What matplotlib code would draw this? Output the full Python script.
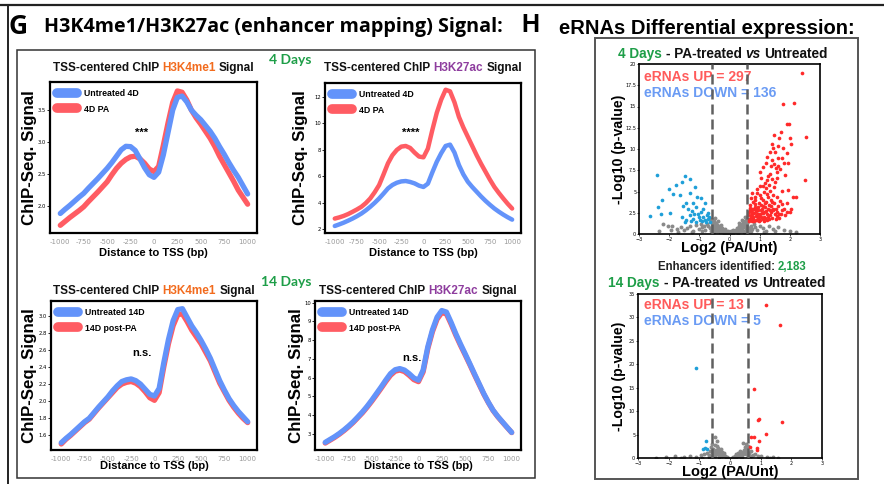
import numpy as np
import matplotlib
matplotlib.use("Agg")
import matplotlib.pyplot as plt
from matplotlib.lines import Line2D
from matplotlib.patches import Rectangle

W, H = 884, 484

# ChIP profiles (distance to TSS, bp), read every 50 bp
dist = list(range(-1000, 1001, 50))

k4_4d_untr = [1.885, 1.95, 2.01, 2.075, 2.14, 2.20, 2.28, 2.355, 2.43, 2.51, 2.59,
              2.68, 2.78, 2.88, 2.935, 2.93, 2.87, 2.74, 2.60, 2.49, 2.45,
              2.53, 2.80, 3.15, 3.50, 3.70, 3.72, 3.63, 3.50, 3.42, 3.35,
              3.26, 3.17, 3.06, 2.93, 2.81, 2.68, 2.56, 2.45, 2.32, 2.19]
k4_4d_pa = [1.70, 1.76, 1.82, 1.875, 1.93, 1.99, 2.07, 2.145, 2.22, 2.30, 2.38,
            2.49, 2.59, 2.67, 2.73, 2.77, 2.78, 2.74, 2.67, 2.58, 2.54,
            2.62, 2.95, 3.30, 3.62, 3.80, 3.78, 3.66, 3.50, 3.38, 3.28,
            3.17, 3.06, 2.93, 2.78, 2.65, 2.52, 2.39, 2.25, 2.14, 2.03]

k27_4d_untr = [2.25, 2.37, 2.50, 2.65, 2.81, 2.99, 3.19, 3.43, 3.70, 4.00, 4.33,
               4.70, 5.09, 5.35, 5.52, 5.62, 5.65, 5.58, 5.47, 5.30, 5.20,
               5.45, 6.30, 7.10, 7.75, 8.30, 8.40, 7.80, 6.86, 6.15, 5.60,
               5.20, 4.84, 4.48, 4.15, 3.85, 3.57, 3.33, 3.11, 2.91, 2.73]
k27_4d_pa = [2.81, 2.90, 3.01, 3.15, 3.32, 3.50, 3.70, 3.98, 4.33, 4.80, 5.34,
             6.15, 6.99, 7.60, 8.00, 8.25, 8.30, 8.15, 7.80, 7.50, 7.44,
             8.10, 9.50, 10.80, 11.80, 12.55, 12.43, 11.60, 10.50, 9.70, 9.00,
             8.30, 7.60, 6.95, 6.35, 5.75, 5.20, 4.75, 4.33, 3.93, 3.57]

k4_14d_untr = [1.515, 1.565, 1.61, 1.66, 1.71, 1.76, 1.80, 1.865, 1.93, 1.99, 2.05,
               2.12, 2.18, 2.23, 2.25, 2.26, 2.24, 2.20, 2.14, 2.08, 2.06,
               2.15, 2.45, 2.72, 2.94, 3.07, 3.08, 2.98, 2.88, 2.80, 2.71,
               2.61, 2.50, 2.37, 2.24, 2.13, 2.03, 1.95, 1.88, 1.82, 1.76]
k4_14d_post = [1.50, 1.555, 1.60, 1.65, 1.70, 1.75, 1.79, 1.855, 1.92, 1.98, 2.04,
               2.10, 2.16, 2.20, 2.22, 2.23, 2.21, 2.17, 2.11, 2.04, 2.01,
               2.10, 2.40, 2.67, 2.88, 3.01, 3.02, 2.93, 2.83, 2.75, 2.67,
               2.57, 2.47, 2.34, 2.21, 2.11, 2.01, 1.93, 1.86, 1.80, 1.75]

k27_14d_untr = [2.54, 2.69, 2.84, 3.01, 3.20, 3.41, 3.64, 3.90, 4.17, 4.47, 4.80,
                5.15, 5.50, 5.87, 6.21, 6.42, 6.48, 6.40, 6.21, 5.98, 5.86,
                6.40, 7.64, 8.55, 9.23, 9.58, 9.50, 8.95, 8.35, 7.80, 7.28,
                6.75, 6.21, 5.68, 5.15, 4.68, 4.26, 3.93, 3.64, 3.35, 3.07]
k27_14d_post = [2.50, 2.65, 2.80, 2.97, 3.16, 3.37, 3.60, 3.86, 4.12, 4.42, 4.74,
                5.08, 5.43, 5.79, 6.12, 6.34, 6.40, 6.32, 6.12, 5.89, 5.78,
                6.30, 7.54, 8.45, 9.12, 9.47, 9.40, 8.86, 8.27, 7.73, 7.22,
                6.70, 6.16, 5.64, 5.12, 4.66, 4.24, 3.91, 3.62, 3.34, 3.06]

xtick_vals = [-1000, -750, -500, -250, 0, 250, 500, 750, 1000]

# volcano points (log2 FC, -log10 p)
up_4d = [(2.39, 19.0), (1.76, 15.3), (2.14, 15.4), (1.92, 12.9), (1.98, 12.9), (1.48, 11.6),
         (1.64, 11.3), (2.00, 11.3), (2.54, 11.4), (1.40, 10.6), (1.43, 10.1), (1.76, 10.1),
         (1.34, 9.7), (1.89, 9.5), (1.23, 9.1), (1.73, 9.0), (1.42, 8.7), (1.12, 7.9),
         (1.62, 8.0), (1.95, 8.4), (1.01, 7.3), (1.34, 7.1), (1.56, 7.3), (1.84, 6.9),
         (2.50, 6.4), (1.23, 6.3), (1.51, 6.1), (1.10, 5.7), (0.90, 5.3), (1.34, 5.1),
         (1.73, 5.1), (1.95, 5.2), (0.73, 4.8), (1.01, 4.6), (1.23, 4.7), (1.56, 4.4),
         (2.09, 4.4), (0.84, 4.0), (1.12, 4.0), (1.40, 3.8), (1.67, 3.9), (1.89, 3.6),
         (0.68, 3.4), (0.95, 3.2), (1.17, 3.2), (1.45, 3.0), (1.73, 2.8), (2.00, 2.6),
         (0.73, 2.6), (0.90, 2.4), (1.12, 2.5), (1.34, 2.2), (1.56, 2.1), (0.79, 1.8),
         (1.01, 1.7), (1.23, 1.6), (0.65, 1.5), (0.70, 2.0), (0.75, 2.3), (0.80, 2.9),
         (0.85, 3.5), (0.88, 2.1), (0.92, 1.6), (0.95, 2.8), (0.98, 3.7), (1.02, 2.3),
         (1.05, 4.2), (1.08, 3.0), (1.15, 2.0), (1.18, 3.6), (1.20, 2.7), (1.26, 4.3),
         (1.28, 2.0), (1.30, 3.4), (1.38, 2.6), (1.45, 4.6), (1.50, 2.4), (1.60, 3.3),
         (1.65, 2.4), (1.80, 3.0), (1.85, 2.2), (0.62, 2.2), (0.68, 2.8), (0.72, 1.7),
         (0.78, 3.8), (0.82, 1.5), (0.86, 4.4), (0.94, 1.9), (1.04, 3.4), (1.10, 1.8),
         (1.14, 4.9), (1.22, 5.4), (1.32, 5.8), (1.36, 4.0), (1.48, 5.5), (1.58, 6.6),
         (1.68, 7.6), (1.28, 6.8), (1.46, 8.2), (1.52, 9.6), (1.62, 10.4), (1.70, 12.0),
         (1.80, 8.3), (2.05, 10.6), (2.20, 4.4), (2.05, 3.0),
         (0.63, 1.8), (0.66, 2.6), (0.69, 3.1), (0.71, 2.2), (0.74, 1.5), (0.76, 3.0),
         (0.77, 2.0), (0.81, 2.5), (0.83, 3.2), (0.87, 2.7), (0.89, 1.7), (0.91, 3.0),
         (0.93, 2.4), (0.97, 2.1), (0.99, 1.5), (1.03, 2.8), (1.06, 2.0), (1.09, 2.5),
         (1.11, 3.3), (1.13, 1.5), (1.16, 2.6), (1.19, 1.9), (1.21, 3.8), (1.24, 2.3),
         (1.27, 3.0), (1.31, 1.8), (1.33, 2.8), (1.37, 3.3), (1.41, 1.9), (1.44, 2.8),
         (1.47, 3.6), (1.53, 1.8), (1.55, 3.0), (1.58, 2.6), (1.63, 1.9), (1.70, 2.3),
         (1.75, 3.5), (1.90, 2.6), (0.70, 4.2), (0.92, 4.8), (1.00, 5.6), (1.18, 6.0),
         (1.06, 6.6), (1.40, 6.5), (1.55, 7.8), (1.38, 8.0), (1.60, 9.0), (1.20, 8.3)]
down_4d = [(-2.39, 6.9), (-1.46, 6.8), (-1.32, 6.5), (-1.59, 6.1), (-1.76, 5.8), (-2.00, 5.3),
           (-1.15, 5.5), (-1.87, 4.7), (-1.65, 4.6), (-1.32, 4.8), (-1.07, 4.4), (-2.23, 4.0),
           (-2.37, 3.2), (-1.43, 3.6), (-1.21, 3.6), (-0.93, 4.2), (-0.82, 3.6), (-1.37, 3.0),
           (-1.10, 3.2), (-0.87, 3.0), (-2.26, 2.3), (-1.96, 2.5), (-2.62, 2.1), (-1.59, 2.0),
           (-1.32, 2.2), (-1.04, 2.4), (-0.76, 2.2), (-1.43, 1.6), (-1.21, 1.8), (-0.99, 1.6),
           (-0.82, 1.6), (-0.71, 1.8), (-1.48, 1.4), (-1.10, 1.4), (-0.87, 2.0), (-0.65, 1.4),
           (-0.95, 2.6), (-1.25, 2.7), (-0.70, 2.5), (-1.55, 3.3), (-0.78, 1.4), (-1.00, 2.0),
           (-1.18, 2.3), (-0.68, 2.0), (-0.90, 1.5), (-1.28, 1.5)]
grey_4d = [(-2.2, 1.2), (-2.05, 0.9), (-1.9, 1.0), (-1.75, 0.6), (-1.6, 0.8), (-1.5, 0.5),
           (-1.4, 0.7), (-1.3, 0.9), (-1.2, 0.4), (-1.1, 1.1), (-1.0, 0.6), (-0.95, 1.2),
           (-0.9, 0.8), (-0.85, 1.0), (-0.8, 0.5), (-0.75, 1.2), (-0.7, 0.9), (-0.65, 0.7),
           (-0.6, 1.8), (-0.58, 1.3), (-0.55, 1.6), (-0.55, 0.9), (-0.5, 1.5), (-0.5, 0.6),
           (-0.45, 1.3), (-0.45, 0.8), (-0.4, 1.1), (-0.4, 0.5), (-0.35, 1.0), (-0.35, 0.4),
           (-0.3, 0.8), (-0.3, 0.3), (-0.25, 0.7), (-0.25, 0.2), (-0.2, 0.5), (-0.2, 0.3),
           (-0.15, 0.3), (-0.1, 0.2), (-0.05, 0.1), (0.0, 0.05), (0.05, 0.1), (0.1, 0.2),
           (0.15, 0.3), (0.2, 0.5), (0.2, 0.2), (0.25, 0.7), (0.25, 0.3), (0.3, 0.9),
           (0.3, 0.4), (0.35, 1.0), (0.35, 0.5), (0.4, 1.2), (0.4, 0.6), (0.45, 1.4),
           (0.45, 0.8), (0.5, 1.5), (0.5, 0.9), (0.55, 1.7), (0.55, 1.1), (0.58, 1.3),
           (0.6, 1.8), (0.65, 0.7), (0.7, 1.0), (0.75, 0.6), (0.8, 1.2), (0.85, 0.8),
           (0.9, 0.5), (1.0, 1.0), (1.1, 0.7), (1.2, 0.4), (1.3, 0.9), (1.45, 0.6),
           (1.6, 0.8), (1.8, 0.5), (2.0, 0.3), (-0.48, 1.9), (-0.38, 1.5), (-0.28, 1.1),
           (0.32, 1.3), (0.42, 1.6), (0.52, 2.0), (-0.15, 0.6), (0.12, 0.5), (-0.62, 0.3),
           (0.62, 0.4), (-0.52, 0.2), (0.48, 0.2), (-0.05, 0.4), (0.05, 0.3),
           (-0.57, 1.0), (-0.53, 1.3), (-0.49, 1.1), (-0.47, 0.5), (-0.43, 1.0), (-0.42, 0.3),
           (-0.37, 0.8), (-0.33, 0.6), (-0.32, 0.2), (-0.27, 0.5), (-0.22, 0.4), (-0.18, 0.15),
           (-0.12, 0.35), (-0.08, 0.1), (-0.02, 0.2), (0.02, 0.15), (0.08, 0.3), (0.13, 0.1),
           (0.17, 0.4), (0.22, 0.35), (0.27, 0.55), (0.28, 0.15), (0.33, 0.75), (0.37, 0.3),
           (0.38, 0.85), (0.43, 1.0), (0.44, 0.4), (0.47, 1.2), (0.53, 1.3), (0.54, 0.6),
           (0.57, 1.5), (0.59, 0.9), (-0.59, 1.6), (-0.56, 0.4), (0.58, 0.2), (-1.7, 0.2),
           (-1.25, 0.2), (-0.9, 0.3), (0.7, 0.3), (1.15, 0.2), (1.5, 0.3), (-2.35, 0.4),
           (-1.95, 0.5), (2.2, 0.2)]

up_14d = [(1.18, 32.6), (1.64, 28.3), (0.79, 14.7), (0.91, 8.2), (0.93, 8.3), (1.69, 7.7),
          (1.18, 5.1), (0.68, 4.5), (0.79, 4.5), (0.93, 3.7), (0.87, 2.2), (0.87, 1.8),
          (0.66, 2.4)]
down_14d = [(-1.11, 19.3), (-0.79, 3.6), (-0.82, 2.1), (-0.74, 1.9), (-0.87, 1.9)]
grey_14d = [(-2.1, 0.3), (-1.8, 0.4), (-1.5, 0.2), (-1.3, 0.5), (-1.1, 0.3), (-0.95, 0.6),
            (-0.85, 0.9), (-0.75, 1.1), (-0.7, 0.6), (-0.65, 1.6), (-0.62, 2.4), (-0.6, 3.0),
            (-0.55, 2.0), (-0.52, 1.2), (-0.5, 2.8), (-0.48, 4.5), (-0.45, 1.8), (-0.44, 3.6),
            (-0.4, 1.0), (-0.38, 2.2), (-0.35, 1.5), (-0.3, 0.8), (-0.28, 1.9), (-0.25, 1.2),
            (-0.2, 0.7), (-0.18, 1.0), (-0.15, 0.4), (-0.1, 0.3), (0.1, 0.3), (0.15, 0.5),
            (0.2, 0.8), (0.25, 1.1), (0.3, 0.7), (0.33, 1.5), (0.38, 1.0), (0.41, 3.3),
            (0.45, 1.8), (0.48, 1.2), (0.5, 2.3), (0.55, 1.6), (0.58, 2.6), (0.62, 1.0),
            (0.7, 1.4), (0.75, 0.7), (0.82, 0.9), (0.9, 0.5), (1.0, 0.4), (1.2, 0.3),
            (1.4, 0.2), (-0.58, 0.5), (-0.35, 0.3), (0.35, 0.3), (0.6, 0.4), (-0.05, 0.1),
            (0.05, 0.1), (-0.42, 2.6), (0.52, 2.9), (-2.4, 0.1), (1.55, 0.1),
            (-0.57, 1.1), (-0.54, 0.7), (-0.47, 0.9), (-0.43, 1.4), (-0.37, 0.6), (-0.33, 1.2),
            (-0.27, 0.4), (-0.22, 0.9), (-0.12, 0.15), (0.12, 0.1), (0.18, 0.3), (0.23, 0.5),
            (0.28, 0.9), (0.32, 0.5), (0.37, 1.3), (0.43, 0.8), (0.47, 1.5), (0.53, 0.9),
            (0.57, 2.0), (-0.6, 1.3), (-0.5, 0.4), (0.4, 0.3), (-0.68, 0.3), (0.68, 0.5),
            (-1.6, 0.1), (-0.9, 0.1), (0.95, 0.1), (1.3, 0.1)]

blue_line = "#6393FA"
red_line = "#FF5C63"
green = "#1E9E48"
orange = "#F26B1D"
purple = "#8E3D9E"
arial = "Liberation Sans"

fig = plt.figure(figsize=(W / 100, H / 100), dpi=100)
renderer = fig.canvas.get_renderer()


def fx(x):
    return x / W


def fy(y):
    return 1 - y / H


def axes_px(l, t, r, b):
    return fig.add_axes([fx(l), fy(b), (r - l) / W, (b - t) / H])


def multi_text(x, y, parts, size, center=False, family=arial, gap=0.28):
    # parts: (text, color, style)
    items = []
    for s, c, st in parts:
        t = fig.text(0, 0, s, color=c, fontsize=size, fontweight="bold", style=st,
                     family=family, va="center", ha="left")
        items.append(t)
    sp = gap * size * 100 / 72
    widths = [t.get_window_extent(renderer).width for t in items]
    total = sum(widths) + sp * (len(items) - 1)
    cur = x - total / 2 if center else x
    for t, w in zip(items, widths):
        t.set_position((fx(cur), fy(y)))
        cur += w + sp


# frame lines
fig.add_artist(Line2D([0, 1], [fy(5), fy(5)], color="#222", lw=1.6))
fig.add_artist(Line2D([fx(8), fx(8)], [fy(5), 0], color="#222", lw=1.4))
fig.add_artist(Rectangle((fx(17), fy(478)), fx(535 - 17), (478 - 50) / H,
                         fill=False, ec="#333", lw=1.1))
fig.add_artist(Rectangle((fx(595), fy(479)), fx(858 - 595), (479 - 38) / H,
                         fill=False, ec="#555", lw=1.4))

fig.text(fx(8), fy(27), "G", fontsize=19, fontweight="bold", family="Open Sans",
         va="center")
fig.text(fx(44), fy(27), "H3K4me1/H3K27ac (enhancer mapping) Signal:", fontsize=14.2,
         fontweight="bold", family="Open Sans", va="center")
fig.text(fx(521), fy(25), "H", fontsize=18, fontweight="bold", family=arial, va="center")
fig.text(fx(559), fy(28), "eRNAs Differential expression:", fontsize=14.5,
         fontweight="bold", family=arial, va="center")

fig.text(fx(290), fy(60), "4 Days", fontsize=10, fontweight="bold", family="Lato",
         color=green, ha="center", va="center")
fig.text(fx(286), fy(282), "14 Days", fontsize=10, fontweight="bold", family="Lato",
         color=green, ha="center", va="center")


def chip_panel(box, ydata, ylim, yticks, mark, mcolor, labels, sig, sig_pos, title_y,
               ylab_x, xlab_y, lw):
    l, t, r, b = box
    ax = axes_px(l, t, r, b)
    ax.plot(dist, ydata[0], color=blue_line, lw=lw, solid_capstyle="round",
            solid_joinstyle="round", label=labels[0], zorder=3)
    ax.plot(dist, ydata[1], color=red_line, lw=lw, solid_capstyle="round",
            solid_joinstyle="round", label=labels[1], zorder=2)
    ax.set_xlim(-1110, 1100)
    ax.set_ylim(*ylim)
    ax.set_yticks(yticks)
    ax.set_xticks(xtick_vals)
    ax.set_xticklabels([str(v) for v in xtick_vals])
    ax.tick_params(axis="y", labelsize=3.8, length=2, width=0.6, pad=1)
    ax.tick_params(axis="x", labelsize=5, length=0, pad=4, labelcolor="#9a9a9a")
    for s in ax.spines.values():
        s.set_linewidth(1.6)
    leg = ax.legend(loc="upper left", frameon=False, handlelength=2.3,
                    handleheight=0.9, borderaxespad=0.4, labelspacing=0.75,
                    prop={"family": arial, "weight": "bold", "size": 6.3})
    for h in leg.get_lines():
        h.set_linewidth(7)
        h.set_solid_capstyle("round")
    ax.text(sig_pos[0], sig_pos[1], sig, transform=ax.transAxes, fontsize=8,
            fontweight="bold", family=arial, ha="center", va="center")
    multi_text((l + r) / 2, title_y, [("TSS-centered ChIP", "#111", "normal"),
                                      (mark, mcolor, "normal"),
                                      ("Signal", "#111", "normal")], 8.5, center=True)
    fig.text(fx(ylab_x), fy((t + b) / 2), "ChIP-Seq. Signal", rotation=90, fontsize=12.2,
             fontweight="bold", family=arial, ha="center", va="center")
    fig.text(fx((l + r) / 2), fy(xlab_y), "Distance to TSS (bp)", fontsize=8,
             fontweight="bold", family=arial, ha="center", va="center")
    return ax


chip_panel((50, 82, 257, 233), (k4_4d_untr, k4_4d_pa), (1.58, 3.94), [2.0, 2.5, 3.0, 3.5],
           "H3K4me1", orange, ("Untreated 4D", "4D PA"), "***", (0.44, 0.66), 68, 30, 253, 3.8)
chip_panel((325, 83, 521, 233), (k27_4d_untr, k27_4d_pa), (1.72, 13.06), [2, 4, 6, 8, 10, 12],
           "H3K27ac", purple, ("Untreated 4D", "4D PA"), "****", (0.44, 0.67), 68, 300, 253, 3.2)
chip_panel((51, 301, 257, 450), (k4_14d_untr, k4_14d_post), (1.43, 3.17),
           [1.6, 1.8, 2.0, 2.2, 2.4, 2.6, 2.8, 3.0],
           "H3K4me1", orange, ("Untreated 14D", "14D post-PA"), "n.s.", (0.44, 0.65), 291, 30, 466, 3.8)
chip_panel((315, 301, 521, 450), (k27_14d_untr, k27_14d_post), (2.13, 10.09),
           [3, 4, 5, 6, 7, 8, 9, 10],
           "H3K27ac", purple, ("Untreated 14D", "14D post-PA"), "n.s.", (0.47, 0.62), 291, 297, 466, 3.8)


def volcano(box, up, down, grey, ylim, yticks, n_up, n_down, ylab_x, xlab_y, txt_y):
    l, t, r, b = box
    ax = axes_px(l, t, r, b)
    gx, gy = zip(*grey)
    ax.scatter(gx, gy, s=8, color="#8a8a8a", lw=0, zorder=2)
    ux, uy = zip(*up)
    ax.scatter(ux, uy, s=7, color="#FF2A2A", lw=0, zorder=3)
    dx, dy = zip(*down)
    ax.scatter(dx, dy, s=7, color="#1E9FD8", lw=0, zorder=3)
    for v in (-0.585, 0.585):
        ax.axvline(v, color="#606060", lw=1.8, dashes=(4, 2), zorder=4)
    ax.set_xlim(-3, 3)
    ax.set_ylim(*ylim)
    ax.set_xticks(range(-3, 4))
    ax.set_yticks(yticks)
    ax.set_yticklabels([("%g" % v) for v in yticks])
    ax.tick_params(labelsize=3.5, length=1.5, width=0.5, pad=0.5)
    for s in ax.spines.values():
        s.set_linewidth(1.2)
    ax.text(0.03, 1 - (txt_y[0] - t) / (b - t), "eRNAs UP = %d" % n_up, transform=ax.transAxes,
            color="#FF5B5B", fontsize=10, fontweight="bold", family=arial, va="center")
    ax.text(0.03, 1 - (txt_y[1] - t) / (b - t), "eRNAs DOWN = %d" % n_down,
            transform=ax.transAxes, color="#6A9BF4", fontsize=10, fontweight="bold",
            family=arial, va="center")
    fig.text(fx(ylab_x), fy((t + b) / 2), "-Log10 (p-value)", rotation=90, fontsize=10.2,
             fontweight="bold", family=arial, ha="center", va="center")
    fig.text(fx((l + r) / 2), fy(xlab_y), "Log2 (PA/Unt)", fontsize=10.5,
             fontweight="bold", family=arial, ha="center", va="center")
    return ax


volcano((639, 64, 820, 234), up_4d, down_4d, grey_4d, (0, 20), [0, 2.5, 5, 7.5, 10, 12.5, 15, 17.5, 20],
        297, 136, 619, 248, (77, 93))
volcano((638, 294, 822, 458), up_14d, down_14d, grey_14d, (0, 35), [0, 5, 10, 15, 20, 25, 30, 35],
        13, 5, 619, 472, (305, 321))

multi_text(723, 54, [("4 Days", green, "normal"), ("- PA-treated", "#111", "normal"),
                     ("vs", "#111", "italic"), ("Untreated", "#111", "normal")], 9.8, center=True)
multi_text(732, 267, [("Enhancers identified:", "#222", "normal"), ("2,183", green, "normal")],
           8.3, center=True)
multi_text(717, 283, [("14 Days", green, "normal"), ("- PA-treated", "#111", "normal"),
                      ("vs", "#111", "italic"), ("Untreated", "#111", "normal")], 9.8, center=True)

fig.savefig("out.png", dpi=100)
